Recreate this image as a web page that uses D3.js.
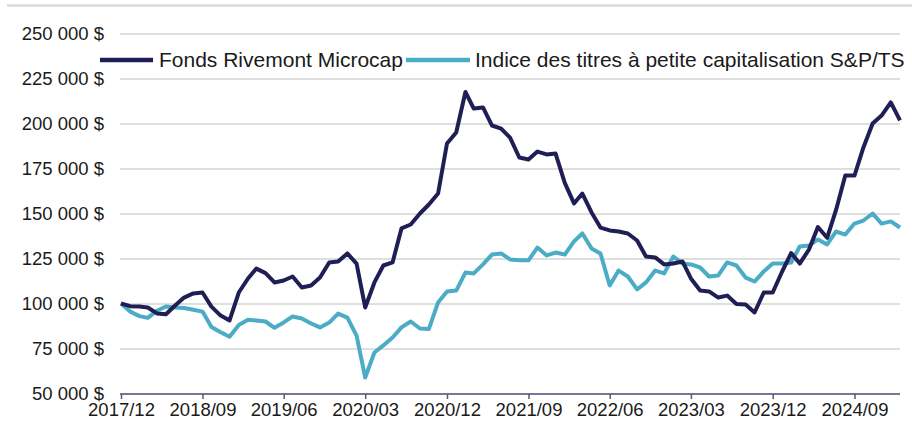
<!DOCTYPE html>
<html>
<head>
<meta charset="utf-8">
<script src="https://cdn.jsdelivr.net/npm/d3@7"></script>
<style>
    body { margin: 0; background: #fff; }
    svg { display: block; font-family: Arial, 'Liberation Sans', sans-serif; }
</style>
</head>
<body>
<svg id="chart" width="912" height="424"></svg>
<script>
// Monthly values from 2017/12 to 2025/02, in thousands of dollars (start = 100 000 $)
const startMonth = new Date(2017, 11, 1);
const endMonth = new Date(2025, 1, 1);
const months = d3.timeMonth.range(startMonth, d3.timeMonth.offset(endMonth, 1));

const fonds = [
    100, 98.5, 98.3, 97.8, 94.5, 94, 98.9, 103.3, 105.6, 106.1,
    98.3, 93.3, 90.6, 106.1, 113.9, 119.4, 116.9, 111.7, 112.8, 115,
    108.9, 110, 114.4, 122.8, 123.3, 127.8, 122.2, 97.8, 111.7, 121.1,
    122.8, 141.7, 143.9, 150, 155, 161.1, 188.9, 195, 217.5, 208.3,
    208.9, 198.9, 197.2, 192.2, 181.1, 180, 184.4, 182.8, 183.3, 167,
    155.6, 161.1, 150.6, 142.2, 140.6, 140, 138.9, 135, 126.1, 125.6,
    121.7, 122.2, 123.3, 113.9, 107.2, 106.7, 103.3, 104.4, 99.7, 99.4,
    95, 106.1, 106.1, 117.5, 128, 122.2, 130, 142.5, 136.5, 152,
    171.1, 171.1, 186.7, 200, 204.4, 211.7, 201.7
];
const indice = [
    100, 95.5, 93, 92, 96, 98.3, 97.8, 97.5, 96.5, 95.5,
    87, 84, 81.5, 88, 91, 90.5, 90, 86.5, 89.5, 92.8,
    91.7, 88.9, 86.7, 89.4, 94.4, 92.2, 82.2, 58.9, 72.8, 76.7,
    81.1, 86.7, 90, 86.1, 85.8, 100.6, 106.7, 107.2, 117.2, 116.7,
    121.7, 127.2, 127.8, 124.5, 124, 124, 131.1, 126.7, 128.3, 127.2,
    134.5, 138.9, 130.6, 127.8, 110, 118.3, 115, 107.8, 111.7, 118.3,
    116.7, 126.1, 122.2, 121.7, 120, 115, 115.6, 122.8, 121.1, 114.4,
    112.2, 117.8, 122.2, 122.2, 122.8, 131.7, 132.2, 135.6, 132.8, 140,
    138.3, 144.4, 146.1, 150, 144.4, 145.6, 142.2
];

const seriesNames = ['Fonds Rivemont Microcap', 'Indice des titres à petite capitalisation S&P/TS'];
const seriesColors = ['#201f55', '#4bacc6'];

const xTickLabels = ['2017/12', '2018/09', '2019/06', '2020/03', '2020/12', '2021/09', '2022/06', '2023/03', '2023/12', '2024/09'];
const yTicks = [50, 75, 100, 125, 150, 175, 200, 225, 250];
const yTickLabels = ['50 000 $', '75 000 $', '100 000 $', '125 000 $', '150 000 $', '175 000 $', '200 000 $', '225 000 $', '250 000 $'];

const FONT_SIZE = 18.5;
const svg = d3.select('#chart');

const x = d3.scaleTime().domain([startMonth, endMonth]).range([121, 900]);
const y = d3.scaleLinear().domain([50, 250]).range([393.5, 33.5]);

// thin rule at the top of the picture
svg.append('line')
    .attr('x1', 7).attr('x2', 912)
    .attr('y1', 5.5).attr('y2', 5.5)
    .attr('stroke', '#d9d9d9')
    .attr('stroke-width', 2.5);

// y axis: gridlines + labels
const yAxis = svg.append('g')
    .attr('transform', 'translate(120,0)')
    .call(d3.axisLeft(y)
        .tickValues(yTicks)
        .tickSize(-780)
        .tickPadding(16)
        .tickFormat((d, i) => yTickLabels[i]));
yAxis.select('.domain').remove();
yAxis.selectAll('.tick line')
    .attr('stroke', '#d4d4d4')
    .attr('stroke-width', 1.5);
yAxis.selectAll('.tick text')
    .attr('fill', '#1a1a1a')
    .style('font-size', FONT_SIZE + 'px');

// x axis every 9 months
const xTickDates = xTickLabels.map(s => d3.timeParse('%Y/%m')(s));
const xAxis = svg.append('g')
    .attr('transform', 'translate(0,394)')
    .call(d3.axisBottom(x)
        .tickValues(xTickDates)
        .tickSize(5)
        .tickSizeOuter(0)
        .tickPadding(4)
        .tickFormat((d, i) => xTickLabels[i]));
xAxis.select('.domain')
    .attr('stroke', '#56567e')
    .attr('stroke-width', 1.5)
    .attr('d', 'M120,0H900');
xAxis.selectAll('.tick line')
    .attr('stroke', '#56567e')
    .attr('stroke-width', 1.5);
xAxis.selectAll('.tick text')
    .attr('fill', '#1a1a1a')
    .style('font-size', FONT_SIZE + 'px');

// lines (index drawn first so the fund sits on top)
const line = d3.line()
    .x((d, i) => x(months[i]))
    .y(d => y(d));

[indice, fonds].forEach((values, k) => {
    svg.append('path')
        .datum(values)
        .attr('fill', 'none')
        .attr('stroke', seriesColors[1 - k])
        .attr('stroke-width', 4)
        .attr('stroke-linejoin', 'round')
        .attr('d', line);
});

// legend
const legendItems = [
    { x1: 100, x2: 153, tx: 159 },
    { x1: 406, x2: 470, tx: 475 }
];
legendItems.forEach((item, k) => {
    svg.append('line')
        .attr('x1', item.x1).attr('x2', item.x2)
        .attr('y1', 60).attr('y2', 60)
        .attr('stroke', seriesColors[k])
        .attr('stroke-width', 4.5);
    svg.append('text')
        .attr('x', item.tx)
        .attr('y', 67)
        .attr('fill', '#1a1a1a')
        .style('font-size', '21px')
        .text(seriesNames[k]);
});
</script>
</body>
</html>
